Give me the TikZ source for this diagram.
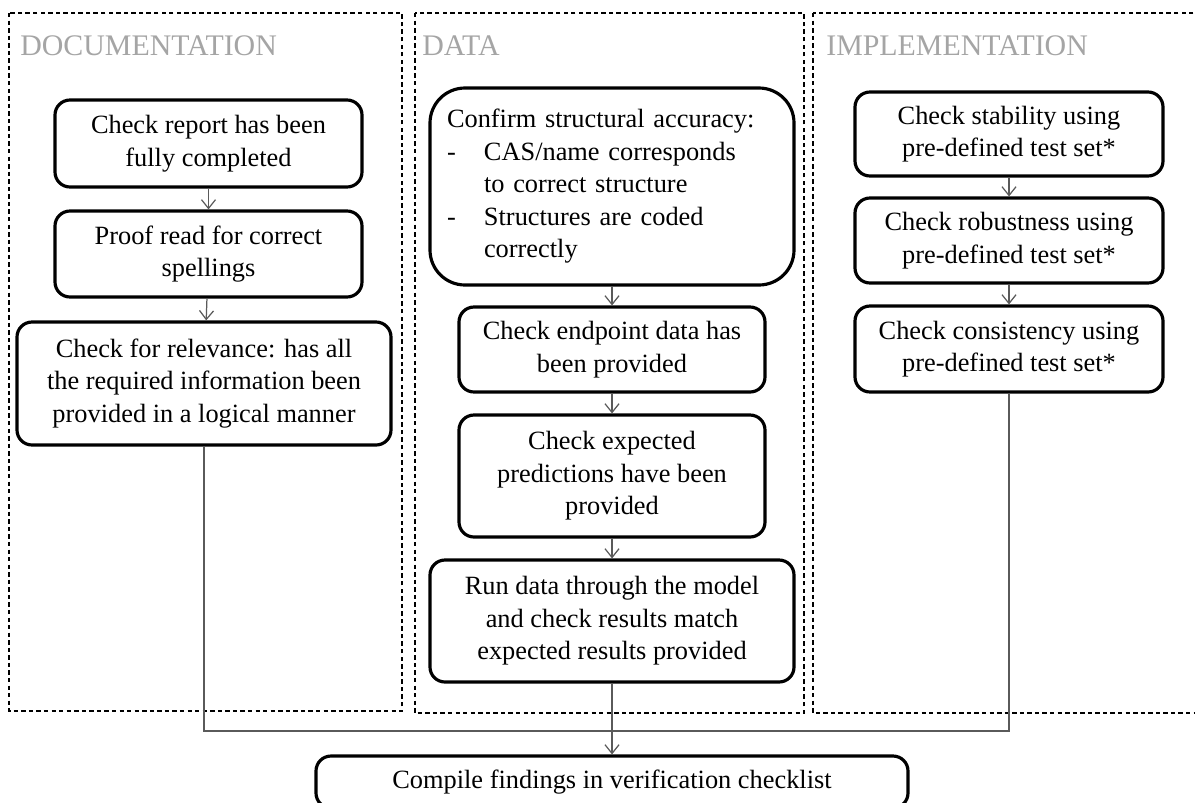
\documentclass[tikz,border=0pt]{standalone}
\usepackage{fontspec}
\setmainfont{Liberation Serif}
\usetikzlibrary{arrows.meta}

\definecolor{headgray}{RGB}{165,165,165}
\definecolor{linkgray}{RGB}{90,90,90}

\newcommand{\listdash}{\makebox[0.74cm][l]{-}}
\newcommand{\listgap}{\hspace*{0.74cm}}

\begin{document}
\begin{tikzpicture}[
    every node/.style={font=\fontsize{15}{18.5}\selectfont},
    stepbox/.style={draw, line width=1.8pt, rounded corners=0.3cm, align=center, inner sep=0pt},
    panel/.style={dash pattern=on 2.5pt off 1.8pt, line width=0.6pt},
    heading/.style={anchor=base west, text=headgray, inner sep=0pt, font=\fontsize{17}{18}\selectfont},
    link/.style={draw=linkgray, line width=0.7pt},
    flow/.style={link, -{Straight Barb[length=5pt, width=8pt]}}
  ]
  \useasboundingbox (0, 0) rectangle (23.9, -16.04);

  % the three columns
  \draw[panel] (0.18, -0.26) rectangle (8.04, -14.22);
  \draw[panel] (8.30, -0.26) rectangle (16.08, -14.26);
  \draw[panel] (16.26, -0.26) rectangle (24.2, -14.26);

  \node[heading] (hdoc) at (0.40, -1.10) {DOCUMENTATION};
  \node[heading] (hdata) at (8.44, -1.10) {DATA};
  \node[heading] (himpl) at (16.52, -1.10) {IMPLEMENTATION};

  % documentation
  \node[stepbox, minimum width=6.14cm, minimum height=1.74cm] (doc1) at (4.17, -2.87)
    {Check report has been\\fully completed};
  \node[stepbox, minimum width=6.14cm, minimum height=1.72cm] (doc2) at (4.17, -5.08)
    {Proof read for correct\\spellings};
  \node[stepbox, minimum width=7.48cm, minimum height=2.46cm] (doc3) at (4.08, -7.67)
    {Check for relevance: has all\\the required information been\\provided in a logical manner};

  % data
  \node[stepbox, rounded corners=0.7cm, minimum width=7.28cm, minimum height=3.94cm,
        text width=6.6cm, align=left] (data1) at (12.24, -3.73)
    {Confirm structural accuracy:\\
     \listdash CAS/name corresponds\\
     \listgap to correct structure\\
     \listdash Structures are coded\\
     \listgap correctly};
  \node[stepbox, minimum width=6.12cm, minimum height=1.70cm] (data2) at (12.24, -6.99)
    {Check endpoint data has\\been provided};
  \node[stepbox, minimum width=6.12cm, minimum height=2.44cm] (data3) at (12.24, -9.52)
    {Check expected\\predictions have been\\provided};
  \node[stepbox, minimum width=7.28cm, minimum height=2.44cm] (data4) at (12.24, -12.42)
    {Run data through the model\\and check results match\\expected results provided};

  % implementation
  \node[stepbox, minimum width=6.16cm, minimum height=1.68cm] (impl1) at (20.18, -2.68)
    {Check stability using\\pre-defined test set*};
  \node[stepbox, minimum width=6.16cm, minimum height=1.70cm] (impl2) at (20.18, -4.81)
    {Check robustness using\\pre-defined test set*};
  \node[stepbox, minimum width=6.16cm, minimum height=1.72cm] (impl3) at (20.18, -6.98)
    {Check consistency using\\pre-defined test set*};

  \node[stepbox, minimum width=11.84cm, minimum height=1.04cm] (final) at (12.24, -15.64)
    {Compile findings in verification checklist};

  \coordinate (join) at (12.24, -14.62);

  \draw[flow] (doc1) -- (doc2);
  \draw[flow] (doc2) -- (doc3);
  \draw[flow] (data1) -- (data2);
  \draw[flow] (data2) -- (data3);
  \draw[flow] (data3) -- (data4);
  \draw[flow] (impl1) -- (impl2);
  \draw[flow] (impl2) -- (impl3);

  \draw[link] (doc3.south) |- (join);
  \draw[link] (impl3.south) |- (join);
  \draw[flow] (data4) -- (final);
\end{tikzpicture}
\end{document}
